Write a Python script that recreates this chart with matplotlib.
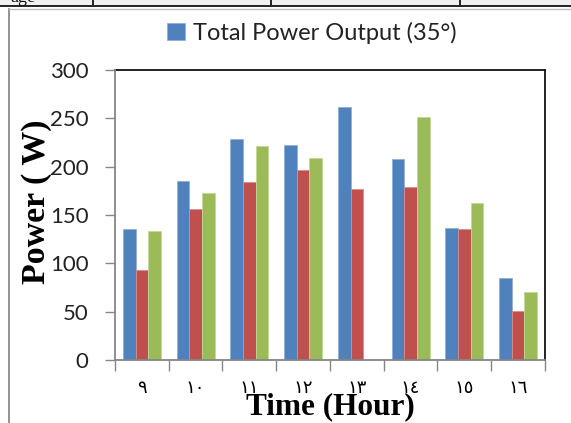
import numpy as np
import matplotlib
matplotlib.use("Agg")
import matplotlib.pyplot as plt
from matplotlib.patches import Rectangle
from matplotlib.lines import Line2D

# Hourly readings (09:00 - 16:00)
hours = ["٩", "١٠", "١١", "١٢", "١٣", "١٤", "١٥", "١٦"]
total_power_35 = [136, 185, 229, 222, 262, 208, 137, 85]
power_series_2 = [93, 156, 184, 197, 177, 179, 135, 51]
power_series_3 = [133, 173, 221, 209, np.nan, 251, 162, 70]

y_ticks = [0, 50, 100, 150, 200, 250, 300]

W, H = 571, 423
fig = plt.figure(figsize=(W / 100, H / 100), dpi=100)
fig.patch.set_facecolor("white")

def fx(px):
    return px / W

def fy(py):
    return 1 - py / H

# surrounding document table strip
fig.patches.append(Rectangle((0, fy(6.5)), 1, 1 - fy(6.5), transform=fig.transFigure,
                             facecolor="#f0f0f0", edgecolor="none", zorder=0))
fig.add_artist(Line2D([0, 1], [fy(6.5), fy(6.5)], transform=fig.transFigure,
                      color="#222222", lw=1.4))
for xv in (93, 271, 460):
    fig.add_artist(Line2D([fx(xv), fx(xv)], [fy(6.5), 1], transform=fig.transFigure,
                          color="#222222", lw=1.4))
fig.text(fx(10), fy(1.5), "age", family="Liberation Serif", fontsize=13,
         va="baseline", ha="left", color="#111111")

# chart-area frame
fig.add_artist(Line2D([fx(9), fx(9)], [0, fy(9)], transform=fig.transFigure,
                      color="#8a8a8a", lw=1.3))
fig.add_artist(Line2D([fx(9), 1], [fy(9), fy(9)], transform=fig.transFigure,
                      color="#bdbdbd", lw=1.0))

ax = fig.add_axes([fx(115), fy(360), fx(545) - fx(115), fy(70) - fy(360)])

x = np.arange(len(hours))
bw = 0.235
colors = ["#4F81BD", "#C0504D", "#9BBB59"]
edges = ["#8fb0d8", "#d98c8a", "#c3d79a"]
series = [total_power_35, power_series_2, power_series_3]
labels = ["Total Power Output (35°)", None, None]
for i, (vals, c, ec, lab) in enumerate(zip(series, colors, edges, labels)):
    ax.bar(x + (i - 1) * bw, vals, width=bw, color=c, edgecolor=ec,
           linewidth=0.6, label=lab, zorder=3)

ax.set_xlim(-0.5, len(hours) - 0.5)
ax.set_ylim(0, 300)

ax.set_yticks(y_ticks)
ax.set_yticklabels([str(v) for v in y_ticks], family="Lato", fontsize=16,
                   color="#222222")
ax.tick_params(axis="y", direction="out", length=7, width=1, color="#868686", pad=12)

ax.set_xticks(np.arange(len(hours) + 1) - 0.5)
ax.set_xticklabels([])
ax.tick_params(axis="x", which="major", direction="out", length=8, width=1,
               color="#868686")
ax.set_xticks(x, minor=True)
ax.set_xticklabels(hours, minor=True, family="DejaVu Sans", fontsize=13)
ax.tick_params(axis="x", which="minor", length=0, pad=14)

for s in ("top", "right"):
    ax.spines[s].set_color("#111111")
    ax.spines[s].set_linewidth(1.3)
for s in ("left", "bottom"):
    ax.spines[s].set_color("#868686")
    ax.spines[s].set_linewidth(1.3)
    ax.spines[s].set_zorder(4)

fig.text(fx(330), fy(407), "Time (Hour)", family="Liberation Serif",
         fontweight="bold", fontsize=22.5, ha="center", va="center")
fig.text(fx(37), fy(202), "Power ( W)", family="Liberation Serif",
         fontweight="bold", fontsize=24.5, ha="center", va="center", rotation=90)

leg = fig.legend(loc="center", bbox_to_anchor=(fx(312), fy(33)), frameon=False,
                 prop={"family": "Lato", "size": 17}, handlelength=0.75,
                 handleheight=0.75, handletextpad=0.35, borderaxespad=0)
for t in leg.get_texts():
    t.set_color("#222222")

fig.savefig("out.png", dpi=100)
